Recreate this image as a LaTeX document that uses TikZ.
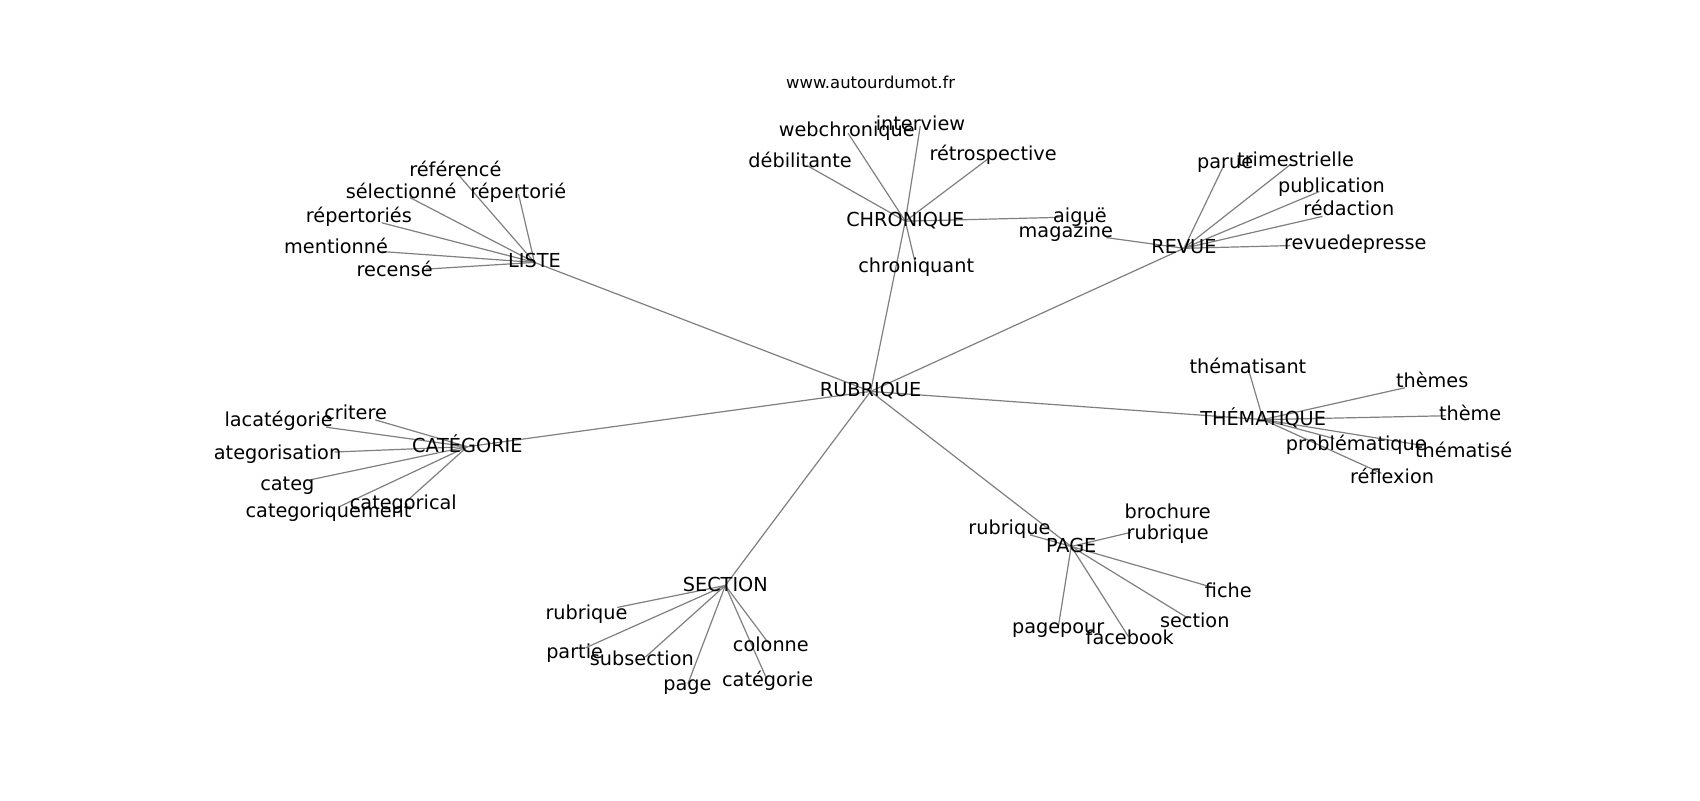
\documentclass[tikz,border=0pt]{standalone}
\usepackage{fontspec}
\setmainfont{DejaVu Sans}
\usetikzlibrary{backgrounds}
\definecolor{edgegray}{RGB}{128,128,128}
\tikzset{
  lbl/.style={font=\fontsize{12.8}{15.4}\selectfont, inner sep=0pt, outer sep=0pt,
              text height=0.87em, text depth=0.13em, text=black},
  lbltwo/.style={font=\fontsize{12.8}{14.4}\selectfont, inner sep=0pt, outer sep=0pt,
              align=center, text=black},
  ttl/.style={font=\fontsize{10.9}{13}\selectfont, inner sep=0pt, text=black},
  edge/.style={draw=edgegray, line width=0.8pt},
  leafedge/.style={edge, shorten >=-4.3pt}
}
\begin{document}
\begin{tikzpicture}[x=0.72pt,y=-0.72pt]
\useasboundingbox (0,0) rectangle (1568,738);
\node[ttl] (title) at (803,76) {www.autourdumot.fr};
% hubs
\node[lbl] (rub) at (803,361) {RUBRIQUE};
\node[lbl] (liste) at (493,242) {LISTE};
\node[lbl] (chron) at (835,204) {CHRONIQUE};
\node[lbl] (revue) at (1092,229) {REVUE};
\node[lbl] (them) at (1165,387) {THÉMATIQUE};
\node[lbl] (pagehub) at (988,504) {PAGE};
\node[lbl] (sect) at (669,540) {SECTION};
\node[lbl] (categ) at (431,412) {CATÉGORIE};
% LISTE leaves
\node[lbl] (l1) at (420,158) {référencé};
\node[lbl] (l2) at (370,178) {sélectionné};
\node[lbl] (l3) at (478,178) {répertorié};
\node[lbl] (l4) at (331,200) {répertoriés};
\node[lbl] (l5) at (310,229) {mentionné};
\node[lbl] (l6) at (364,250) {recensé};
% CHRONIQUE leaves
\node[lbl] (c1) at (781,121) {webchronique};
\node[lbl] (c2) at (849,115) {interview};
\node[lbl] (c3) at (738,149) {débilitante};
\node[lbl] (c4) at (916,143) {rétrospective};
\node[lbl] (c5) at (845,246) {chroniquant};
\node[lbl] (c6) at (996,200) {aiguë};
% REVUE leaves
\node[lbl] (r1) at (1130,150) {parue};
\node[lbl] (r2) at (1195,148) {trimestrielle};
\node[lbl] (r3) at (1228,172) {publication};
\node[lbl] (r4) at (1244,194) {rédaction};
\node[lbl] (r5) at (1250,225) {revuedepresse};
\node[lbl] (r6) at (983,214) {magazine};
% THEMATIQUE leaves
\node[lbl] (t1) at (1151,339) {thématisant};
\node[lbl] (t2) at (1321,352) {thèmes};
\node[lbl] (t3) at (1356,383) {thème};
\node[lbl] (t4) at (1251,410) {problématique};
\node[lbl] (t5) at (1350,417) {thématisé};
\node[lbl] (t6) at (1284,441) {réflexion};
% CATEGORIE leaves
\node[lbl] (g1) at (328,382) {critere};
\node[lbl] (g2) at (257,388) {lacatégorie};
\node[lbl] (g3) at (256,419) {ategorisation};
\node[lbl] (g4) at (265,447) {categ};
\node[lbl] (g5) at (303,472) {categoriquement};
\node[lbl] (g6) at (372,465) {categorical};
% SECTION leaves
\node[lbl] (s1) at (541,566) {rubrique};
\node[lbl] (s2) at (530,602) {partie};
\node[lbl] (s3) at (592,609) {subsection};
\node[lbl] (s4) at (634,632) {page};
\node[lbl] (s5) at (711,596) {colonne};
\node[lbl] (s6) at (708,628) {catégorie};
% PAGE leaves
\node[lbl] (p1) at (931,488) {rubrique};
\node[lbltwo] (p2) at (1077,483) {brochure\\rubrique};
\node[lbl] (p3) at (1133,546) {fiche};
\node[lbl] (p4) at (1102,574) {section};
\node[lbl] (p5) at (1042,589) {facebook};
\node[lbl] (p6) at (976,579) {pagepour};
\begin{scope}[on background layer]
\fill[white] (0,0) rectangle (1568,738);
\foreach \h in {liste,chron,revue,them,pagehub,sect,categ}
  \draw[edge] (rub.center) -- (\h.center);
\foreach \l in {l1,l2,l3,l4,l5,l6} \draw[leafedge] (liste.center) -- (\l);
\foreach \l in {c1,c2,c3,c4,c5,c6} \draw[leafedge] (chron.center) -- (\l);
\foreach \l in {r1,r2,r3,r4,r5,r6} \draw[leafedge] (revue.center) -- (\l);
\foreach \l in {t1,t2,t3,t4,t5,t6} \draw[leafedge] (them.center) -- (\l);
\foreach \l in {g1,g2,g3,g4,g5,g6} \draw[leafedge] (categ.center) -- (\l);
\foreach \l in {s1,s2,s3,s4,s5,s6} \draw[leafedge] (sect.center) -- (\l);
\foreach \l in {p1,p2,p3,p4,p5,p6} \draw[leafedge] (pagehub.center) -- (\l);
\end{scope}
\end{tikzpicture}
\end{document}
